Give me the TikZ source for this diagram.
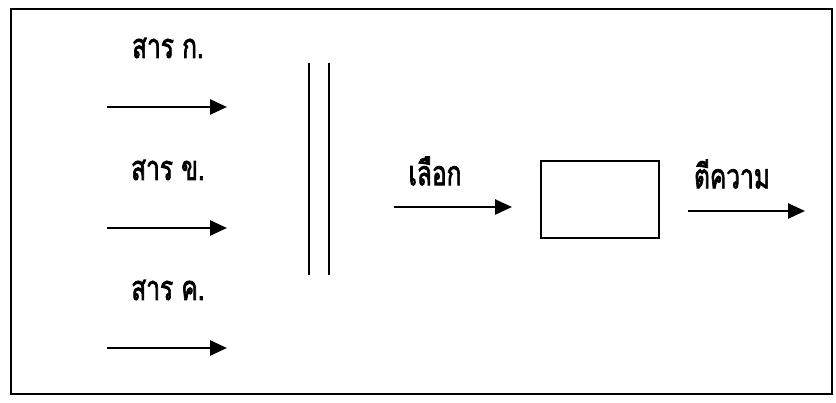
\documentclass[tikz,border=0pt]{standalone}
\usepackage{fontspec}
\usepackage{graphicx}
\newfontfamily\thaifont[Script=Thai,FakeBold=2.5]{Loma}
\usetikzlibrary{arrows.meta}
\newcommand{\thtxt}[1]{\scalebox{0.72}[1]{#1}}
\tikzset{
  flow/.style={line width=2.6pt, -{Triangle[length=17pt,width=15pt]}},
  lbl/.style={font=\thaifont\fontsize{34}{36}\selectfont, inner sep=0pt},
  plain/.style={line width=1.6pt}
}
\begin{document}
\begin{tikzpicture}[x=1pt,y=-1pt]
\useasboundingbox (0,0) rectangle (836,403);
\fill[white] (0,0) rectangle (836,403);
\draw[plain] (11,9) rectangle (832,394);
% labels
\node[lbl] (ta) at (168,48) {\thtxt{สาร ก.}};
\node[lbl] (tb) at (168,170) {\thtxt{สาร ข.}};
\node[lbl] (tc) at (168,290) {\thtxt{สาร ค.}};
\node[lbl] (sel) at (435,171) {\thtxt{เลือก}};
\node[lbl] (int) at (732,174) {\thtxt{ตีความ}};
% input arrows
\coordinate (a1s) at (107,107); \coordinate (a1e) at (227,107);
\coordinate (a2s) at (107,228); \coordinate (a2e) at (227,228);
\coordinate (a3s) at (107,348); \coordinate (a3e) at (227,348);
\draw[flow] (a1s) -- (a1e);
\draw[flow] (a2s) -- (a2e);
\draw[flow] (a3s) -- (a3e);
% double bar
\coordinate (b1t) at (309,63); \coordinate (b1b) at (309,275);
\coordinate (b2t) at (329,63); \coordinate (b2b) at (329,275);
\draw[plain] (b1t) -- (b1b);
\draw[plain] (b2t) -- (b2b);
% box
\node[draw, line width=1.6pt, minimum width=118pt, minimum height=77pt, inner sep=0pt] (box) at (600,199.5) {};
\coordinate (s1) at (394,207); \coordinate (s2) at (512,207);
\draw[flow] (s1) -- (s2);
\coordinate (o1) at (688,211); \coordinate (o2) at (805,211);
\draw[flow] (o1) -- (o2);
\end{tikzpicture}
\end{document}
